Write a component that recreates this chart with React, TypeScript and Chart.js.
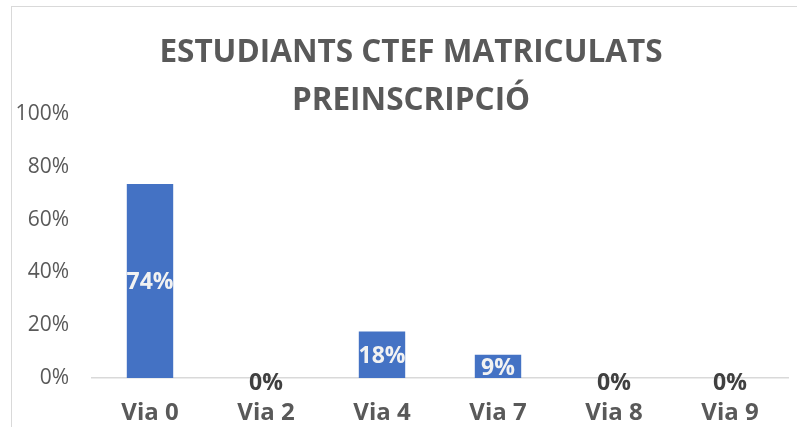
import React, { useEffect, useRef } from "react";
import { Chart, registerables } from "chart.js";

Chart.register(...registerables);

const titleLines = ["ESTUDIANTS CTEF MATRICULATS", "PREINSCRIPCIÓ"];
const categories = ["Via 0", "Via 2", "Via 4", "Via 7", "Via 8", "Via 9"];
const shares = [0.735, 0, 0.176, 0.088, 0, 0];

const FONT = '"Open Sans", "DejaVu Sans", sans-serif';

const framePlugin = {
  id: "frame",
  beforeDraw(chart: any) {
    const ctx = chart.ctx;
    ctx.save();
    ctx.strokeStyle = "#d9d9d9";
    ctx.lineWidth = 1;
    ctx.strokeRect(11.5, 6.5, 1000, 1000);
    ctx.restore();
  },
};

const titlePlugin = {
  id: "customTitle",
  afterDraw(chart: any) {
    const ctx = chart.ctx;
    ctx.save();
    ctx.fillStyle = "#595959";
    ctx.font = `bold 31.5px ${FONT}`;
    ctx.textAlign = "center";
    ctx.textBaseline = "alphabetic";
    ctx.fillText(titleLines[0], 411, 62);
    ctx.fillText(titleLines[1], 411, 110);
    ctx.restore();
  },
};

const labelPlugin = {
  id: "barLabels",
  afterDatasetsDraw(chart: any) {
    const ctx = chart.ctx;
    const meta = chart.getDatasetMeta(0);
    ctx.save();
    ctx.font = `bold 23px ${FONT}`;
    ctx.textAlign = "center";
    ctx.textBaseline = "alphabetic";
    meta.data.forEach((el: any, i: number) => {
      const v = shares[i];
      const txt = Math.round(v * 100) + "%";
      if (v > 0) {
        ctx.fillStyle = "#f2f2f2";
        const mid = (el.y + el.base) / 2;
        ctx.fillText(txt, el.x, mid + 8.5);
      } else {
        ctx.fillStyle = "#404040";
        ctx.fillText(txt, el.x, el.base + 12);
      }
    });
    ctx.restore();
  },
};

export default function App() {
  const ref = useRef<HTMLCanvasElement>(null);
  useEffect(() => {
    if (!ref.current) return;
    const chart = new Chart(ref.current, {
      type: "bar",
      data: {
        labels: categories,
        datasets: [
          {
            data: shares,
            backgroundColor: "#4472c4",
            categoryPercentage: 1,
            barPercentage: 0.4,
          },
        ],
      },
      options: {
        responsive: false,
        animation: false,
        layout: { padding: { top: 114, right: 9, left: 0, bottom: 0 } },
        plugins: {
          legend: { display: false },
          title: { display: false },
          tooltip: { enabled: false },
        },
        scales: {
          x: {
            grid: { display: false, drawTicks: false },
            border: { display: true, color: "#d9d9d9", width: 1.5 },
            ticks: {
              color: "#595959",
              font: { family: FONT, size: 24, weight: "bold" },
              padding: 21,
              maxRotation: 0,
            },
            afterFit(scale: any) {
              scale.height = 49;
            },
          },
          y: {
            min: 0,
            max: 1,
            grid: { display: false, drawTicks: false },
            border: { display: false },
            ticks: {
              stepSize: 0.2,
              color: "#595959",
              font: { family: FONT, size: 21 },
              padding: 23,
              callback: (v: any) => Math.round(Number(v) * 100) + "%",
            },
            afterFit(scale: any) {
              scale.width = 92;
            },
          },
        },
      },
      plugins: [framePlugin, titlePlugin, labelPlugin],
    });
    return () => chart.destroy();
  }, []);
  return (
    <canvas
      ref={ref}
      width={797}
      height={427}
      style={{ position: "absolute", left: 0, top: 0, width: 797, height: 427 }}
    />
  );
}
